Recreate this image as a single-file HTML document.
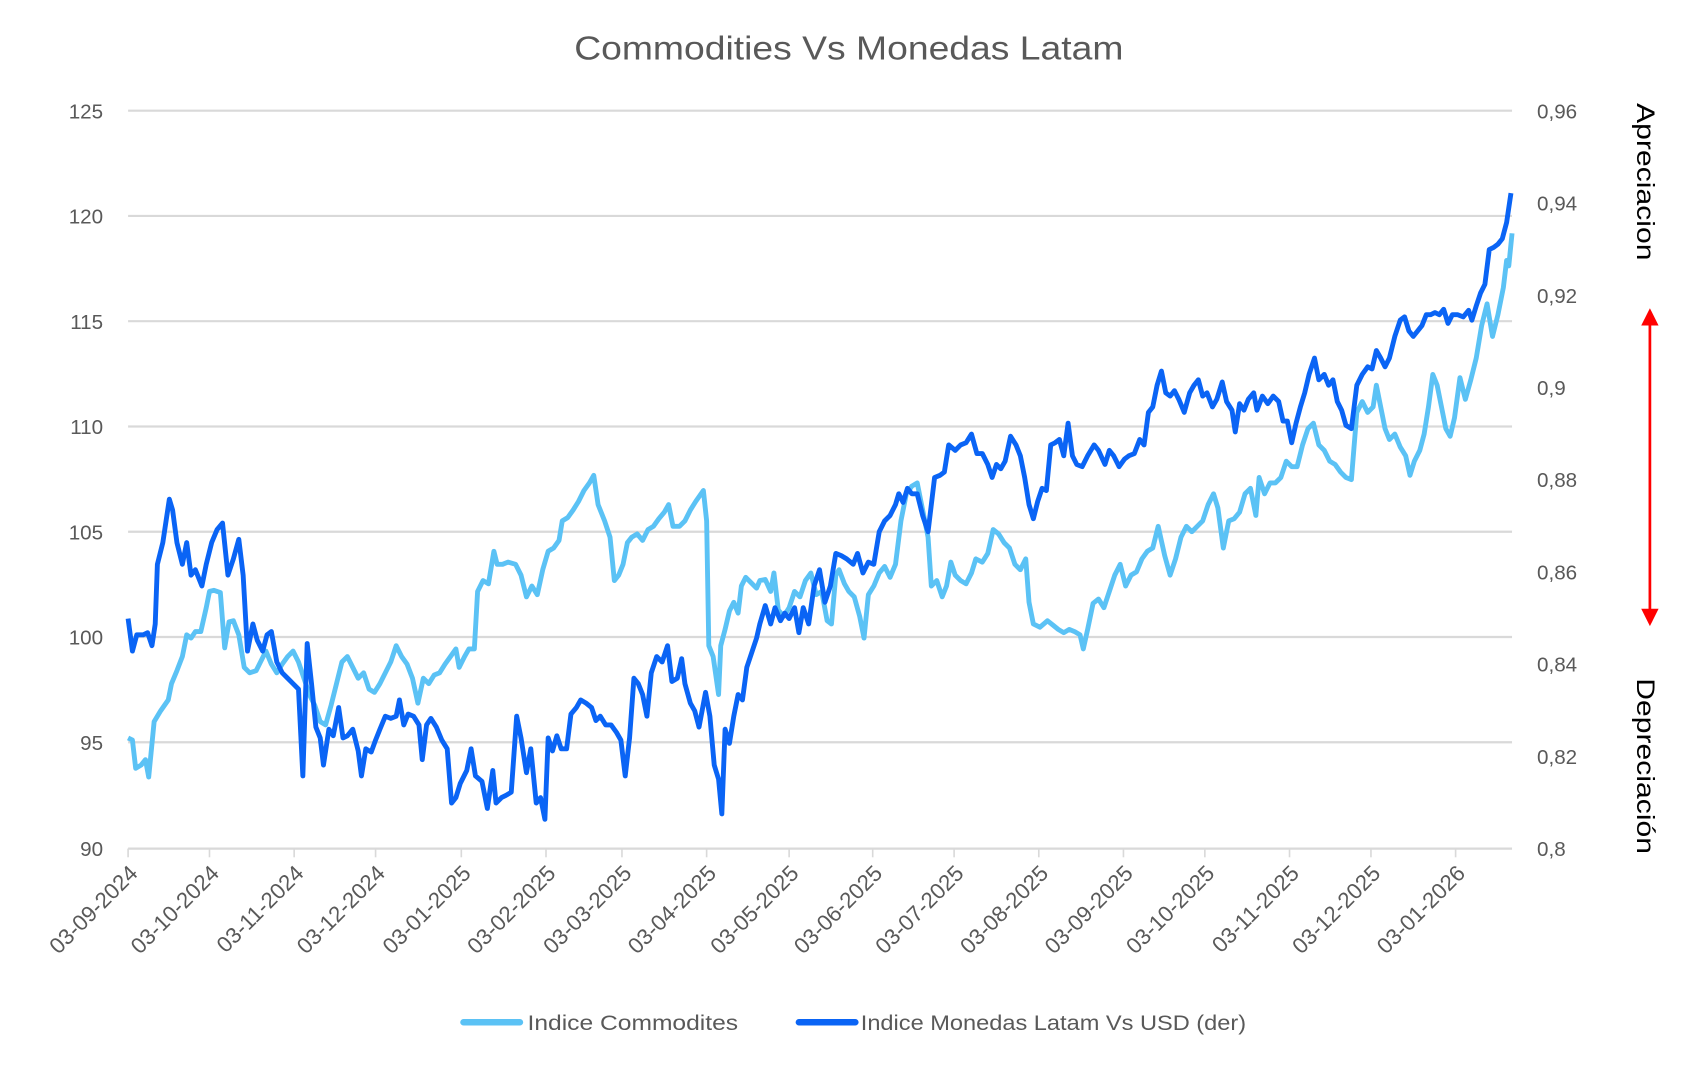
<!DOCTYPE html>
<html><head><meta charset="utf-8"><style>
html,body{margin:0;padding:0;background:#fff;}
svg{display:block;}
text{font-family:"Liberation Sans",sans-serif;}
</style></head><body>
<svg width="1702" height="1070" viewBox="0 0 1568 986" preserveAspectRatio="none" xmlns="http://www.w3.org/2000/svg">
<rect width="1568" height="986" fill="#fff"/>
<text x="782" y="55" text-anchor="middle" font-size="31" fill="#595959" textLength="506" lengthAdjust="spacingAndGlyphs">Commodities Vs Monedas Latam</text>
<g stroke="#d9d9d9" stroke-width="2">
<line x1="118" x2="1393" y1="102" y2="102"/><line x1="118" x2="1393" y1="199" y2="199"/>
<line x1="118" x2="1393" y1="296" y2="296"/><line x1="118" x2="1393" y1="393" y2="393"/>
<line x1="118" x2="1393" y1="490" y2="490"/><line x1="118" x2="1393" y1="587" y2="587"/>
<line x1="118" x2="1393" y1="684" y2="684"/><line x1="118" x2="1393" y1="782" y2="782"/>
<g stroke-width="1.5"><line x1="118" x2="118" y1="782" y2="790"/><line x1="193" x2="193" y1="782" y2="790"/><line x1="271" x2="271" y1="782" y2="790"/><line x1="346" x2="346" y1="782" y2="790"/><line x1="425" x2="425" y1="782" y2="790"/><line x1="503" x2="503" y1="782" y2="790"/><line x1="573" x2="573" y1="782" y2="790"/><line x1="651" x2="651" y1="782" y2="790"/><line x1="727" x2="727" y1="782" y2="790"/><line x1="804" x2="804" y1="782" y2="790"/><line x1="879" x2="879" y1="782" y2="790"/><line x1="957" x2="957" y1="782" y2="790"/><line x1="1035" x2="1035" y1="782" y2="790"/><line x1="1110" x2="1110" y1="782" y2="790"/><line x1="1188" x2="1188" y1="782" y2="790"/><line x1="1263" x2="1263" y1="782" y2="790"/><line x1="1341" x2="1341" y1="782" y2="790"/></g>
</g>
<g font-size="19" fill="#595959" text-anchor="end">
<text x="95" y="109">125</text><text x="95" y="206">120</text><text x="95" y="303">115</text><text x="95" y="400">110</text><text x="95" y="497">105</text><text x="95" y="594">100</text><text x="95" y="691">95</text><text x="95" y="789">90</text>
</g>
<g font-size="19" fill="#595959">
<text x="1416" y="109">0,96</text><text x="1416" y="194">0,94</text><text x="1416" y="279">0,92</text><text x="1416" y="364">0,9</text><text x="1416" y="449">0,88</text><text x="1416" y="534">0,86</text><text x="1416" y="619">0,84</text><text x="1416" y="704">0,82</text><text x="1416" y="789">0,8</text>
</g>
<g font-size="20.5" fill="#595959" text-anchor="end">
<text transform="translate(128,806) rotate(-45)">03-09-2024</text>
<text transform="translate(203,806) rotate(-45)">03-10-2024</text>
<text transform="translate(281,806) rotate(-45)">03-11-2024</text>
<text transform="translate(356,806) rotate(-45)">03-12-2024</text>
<text transform="translate(435,806) rotate(-45)">03-01-2025</text>
<text transform="translate(513,806) rotate(-45)">03-02-2025</text>
<text transform="translate(583,806) rotate(-45)">03-03-2025</text>
<text transform="translate(661,806) rotate(-45)">03-04-2025</text>
<text transform="translate(737,806) rotate(-45)">03-05-2025</text>
<text transform="translate(814,806) rotate(-45)">03-06-2025</text>
<text transform="translate(889,806) rotate(-45)">03-07-2025</text>
<text transform="translate(967,806) rotate(-45)">03-08-2025</text>
<text transform="translate(1045,806) rotate(-45)">03-09-2025</text>
<text transform="translate(1120,806) rotate(-45)">03-10-2025</text>
<text transform="translate(1198,806) rotate(-45)">03-11-2025</text>
<text transform="translate(1273,806) rotate(-45)">03-12-2025</text>
<text transform="translate(1351,806) rotate(-45)">03-01-2026</text>
</g>
<polyline fill="none" stroke="#5bc2f5" stroke-width="4.5" stroke-linejoin="round" points="118,680 122,682 125,708 130,705 134,700 137,716 142,665 148,655 155,645 158,630 163,618 168,605 172,585 176,588 180,582 185,582 190,560 193,545 197,544 203,546 207,597 211,573 215,572 220,585 225,615 230,620 236,618 240,610 245,600 250,612 255,620 260,612 265,605 270,600 275,610 280,625 285,640 290,650 295,665 300,668 305,650 310,630 315,610 320,605 325,615 330,625 335,620 340,635 345,638 350,630 355,620 360,610 365,595 370,605 375,612 380,625 385,648 390,625 395,630 400,622 405,620 410,612 415,605 420,598 423,615 428,605 432,598 437,598 440,545 445,535 450,538 455,508 458,520 463,520 468,518 475,520 480,530 485,550 490,540 495,548 500,525 505,508 510,505 515,498 518,480 523,477 528,470 533,462 538,452 543,445 547,438 551,465 557,480 562,495 566,535 570,530 574,520 578,500 582,495 587,492 592,498 597,488 602,485 607,478 612,472 616,465 620,485 626,485 631,480 636,470 641,462 648,452 651,480 653,595 657,605 662,640 664,595 668,580 672,563 676,555 680,565 683,540 687,532 692,537 697,542 700,535 705,534 710,545 713,528 717,562 722,568 727,560 732,545 737,550 742,535 747,528 752,548 757,545 762,572 766,575 770,530 773,525 778,538 782,545 787,550 792,568 796,588 800,548 805,540 810,528 815,522 820,532 825,520 830,480 835,455 840,448 845,445 850,470 855,495 858,540 863,535 868,550 872,540 876,518 880,530 885,535 890,538 895,528 899,515 905,518 910,510 915,488 920,492 925,500 930,505 935,520 940,525 945,515 948,555 952,575 958,578 965,572 970,576 975,580 980,583 985,580 990,582 995,585 998,598 1002,580 1007,556 1012,552 1017,560 1022,545 1027,530 1032,520 1037,540 1042,530 1047,527 1052,515 1057,508 1062,505 1067,485 1073,512 1078,530 1083,515 1088,495 1093,485 1098,490 1103,485 1108,480 1113,465 1118,455 1122,468 1127,505 1132,480 1137,478 1142,472 1147,455 1152,450 1157,475 1160,440 1165,455 1170,445 1175,445 1180,440 1185,425 1190,430 1195,430 1200,410 1205,395 1210,390 1215,410 1220,415 1225,425 1230,428 1235,435 1240,440 1245,442 1250,380 1255,370 1260,380 1265,375 1268,355 1272,375 1276,395 1280,405 1285,400 1290,412 1295,420 1299,438 1303,425 1308,415 1312,400 1316,375 1320,345 1324,355 1328,375 1332,395 1336,402 1340,385 1345,348 1350,368 1355,350 1360,330 1365,300 1370,280 1375,310 1380,290 1385,265 1388,240 1390,245 1393,215"/>
<polyline fill="none" stroke="#0a64f5" stroke-width="4.5" stroke-linejoin="round" points="118,570 122,600 126,585 132,585 136,583 140,595 143,575 145,520 150,500 153,480 156,460 159,470 163,500 168,520 172,500 176,530 180,525 186,540 190,520 195,500 200,488 205,482 210,530 215,515 220,497 224,530 228,600 233,575 237,590 242,600 246,585 250,582 255,610 260,620 265,625 270,630 275,635 279,715 283,593 287,630 291,670 295,680 298,705 303,672 307,678 312,652 316,680 320,678 325,672 330,692 333,715 337,690 342,693 346,682 350,672 355,660 360,662 365,660 368,645 372,668 376,658 381,660 386,668 389,700 393,668 397,662 402,670 407,682 412,690 416,740 420,735 424,722 430,710 434,690 438,715 444,720 449,745 454,710 457,740 462,735 466,733 471,730 476,660 480,680 485,712 489,690 494,740 498,735 502,755 505,680 509,692 513,678 517,690 522,690 526,658 531,652 535,645 540,648 545,652 549,664 553,660 558,668 563,668 568,675 572,682 576,715 580,680 584,625 588,630 592,640 596,660 600,620 605,605 610,610 615,595 619,628 624,625 628,607 631,630 636,648 640,655 644,670 650,638 654,660 658,705 662,718 665,750 668,672 672,685 676,660 680,640 684,645 688,615 693,600 697,588 700,575 705,558 710,575 714,560 719,572 723,565 727,570 732,560 736,583 740,560 745,575 750,540 755,525 760,555 765,540 770,510 775,512 780,515 786,520 790,510 795,528 800,518 805,520 810,490 815,480 820,475 825,465 828,455 832,463 836,450 840,455 845,455 850,475 855,490 858,465 861,440 866,438 870,435 874,410 880,415 885,410 890,408 895,400 900,418 905,418 910,428 914,440 918,428 922,432 926,425 931,402 936,410 940,420 944,440 948,465 952,478 956,462 960,450 964,452 968,410 972,408 976,405 980,420 984,390 988,420 992,428 997,430 1002,420 1008,410 1012,415 1018,428 1022,415 1026,420 1031,430 1036,423 1040,420 1045,418 1050,405 1054,410 1058,380 1062,375 1066,355 1070,342 1074,362 1078,365 1082,360 1086,368 1091,380 1096,362 1100,355 1104,350 1108,365 1112,362 1117,375 1121,368 1126,352 1130,370 1135,378 1138,398 1142,372 1146,378 1150,368 1155,362 1158,378 1163,365 1168,372 1173,365 1178,370 1182,388 1186,388 1190,408 1194,390 1198,375 1202,362 1206,345 1211,330 1215,350 1220,345 1224,355 1228,350 1232,370 1236,378 1240,392 1245,395 1250,355 1255,345 1260,338 1264,340 1268,323 1272,330 1276,338 1280,330 1285,310 1290,295 1294,292 1298,305 1302,310 1306,305 1310,300 1314,290 1318,290 1322,288 1326,290 1330,285 1334,298 1338,290 1343,290 1348,292 1353,286 1356,295 1360,282 1364,270 1368,262 1372,230 1376,228 1380,225 1384,220 1388,205 1392,178"/>
<text transform="translate(1508,95) rotate(90)" font-size="23" fill="#000" textLength="145" lengthAdjust="spacingAndGlyphs">Apreciacion</text>
<text transform="translate(1508,625) rotate(90)" font-size="23" fill="#000" textLength="162" lengthAdjust="spacingAndGlyphs">Depreciación</text>
<line x1="1520" y1="298" x2="1520" y2="563" stroke="#ff0000" stroke-width="2.5"/>
<polygon points="1520,284 1512,300 1528,300" fill="#ff0000"/>
<polygon points="1520,577 1512,561 1528,561" fill="#ff0000"/>
<line x1="427" y1="942" x2="479" y2="942" stroke="#5bc2f5" stroke-width="6" stroke-linecap="round"/>
<text x="486" y="949" font-size="20" fill="#595959" textLength="194" lengthAdjust="spacingAndGlyphs">Indice Commodites</text>
<line x1="736" y1="942" x2="788" y2="942" stroke="#0a64f5" stroke-width="6" stroke-linecap="round"/>
<text x="793" y="949" font-size="20" fill="#595959" textLength="355" lengthAdjust="spacingAndGlyphs">Indice Monedas Latam Vs USD (der)</text>
</svg>
</body></html>
